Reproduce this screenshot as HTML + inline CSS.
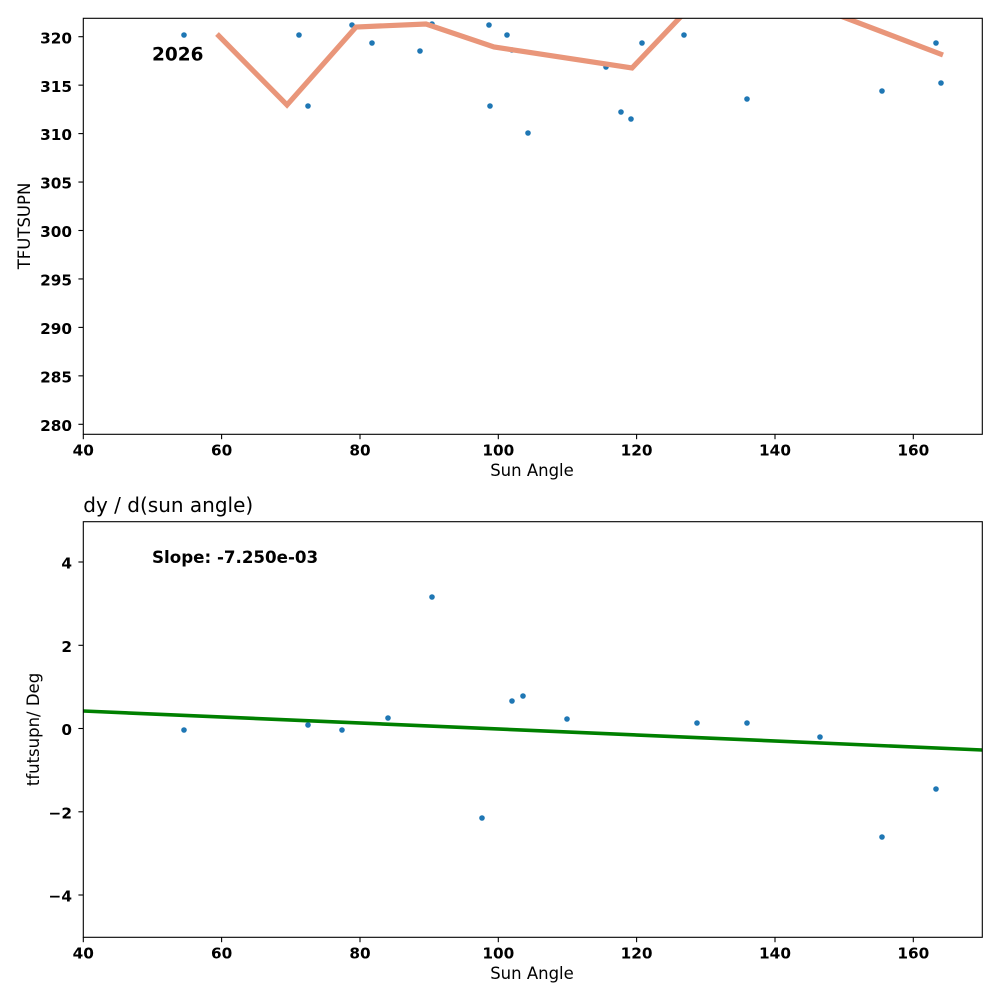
<!DOCTYPE html>
<html><head><meta charset="utf-8"><style>
html,body{margin:0;padding:0;background:#fff;}
svg{display:block;}
text{font-family:"DejaVu Sans","Liberation Sans",sans-serif;}
.tk{font-size:15.3px;font-weight:bold;fill:#000;}
.lb{font-size:16.5px;fill:#000;}
</style></head><body>
<svg width="1000" height="1000" viewBox="0 0 1000 1000" xmlns="http://www.w3.org/2000/svg">
<defs>
<clipPath id="c1"><rect x="83.3" y="18.3" width="899" height="416"/></clipPath>
<clipPath id="c2"><rect x="83.3" y="521.7" width="899" height="415.6"/></clipPath>
</defs>
<rect width="1000" height="1000" fill="#fff"/>

<!-- TOP PLOT -->
<g clip-path="url(#c1)" fill="#1f77b4">
<circle cx="184" cy="35" r="2.8"/>
<circle cx="299" cy="35" r="2.8"/>
<circle cx="308" cy="106" r="2.8"/>
<circle cx="352" cy="25" r="2.8"/>
<circle cx="372" cy="43" r="2.8"/>
<circle cx="420" cy="51" r="2.8"/>
<circle cx="432" cy="24" r="2.8"/>
<circle cx="489" cy="25" r="2.8"/>
<circle cx="490" cy="106" r="2.8"/>
<circle cx="507" cy="35" r="2.8"/>
<circle cx="512" cy="50" r="2.8"/>
<circle cx="528" cy="133" r="2.8"/>
<circle cx="606" cy="67" r="2.8"/>
<circle cx="621" cy="112" r="2.8"/>
<circle cx="631" cy="119" r="2.8"/>
<circle cx="642" cy="43" r="2.8"/>
<circle cx="684" cy="35" r="2.8"/>
<circle cx="747" cy="99" r="2.8"/>
<circle cx="882" cy="91" r="2.8"/>
<circle cx="936" cy="43" r="2.8"/>
<circle cx="941" cy="83" r="2.8"/>
</g>
<g clip-path="url(#c1)">
<polyline points="217,34 287,105 356,27 426,24 494,47 632,68 690,7 830,12 943,55" fill="none" stroke="#e9967a" stroke-width="5.2" stroke-linejoin="miter"/>
</g>
<text x="152" y="60.5" style="font-size:18.5px;font-weight:bold">2026</text>
<rect x="83.3" y="18.3" width="899" height="416" fill="none" stroke="#000" stroke-width="1.1"/>
<!-- top x ticks -->
<g stroke="#000" stroke-width="1.1">
<line x1="83.3" y1="434.3" x2="83.3" y2="439.2"/>
<line x1="221.6" y1="434.3" x2="221.6" y2="439.2"/>
<line x1="360" y1="434.3" x2="360" y2="439.2"/>
<line x1="498.3" y1="434.3" x2="498.3" y2="439.2"/>
<line x1="636.6" y1="434.3" x2="636.6" y2="439.2"/>
<line x1="775" y1="434.3" x2="775" y2="439.2"/>
<line x1="913.3" y1="434.3" x2="913.3" y2="439.2"/>
</g>
<g class="tk" text-anchor="middle">
<text x="83.3" y="455.7">40</text>
<text x="221.6" y="455.7">60</text>
<text x="360" y="455.7">80</text>
<text x="498.3" y="455.7">100</text>
<text x="636.6" y="455.7">120</text>
<text x="775" y="455.7">140</text>
<text x="913.3" y="455.7">160</text>
</g>
<text class="lb" x="532" y="476" text-anchor="middle">Sun Angle</text>
<!-- top y ticks -->
<g stroke="#000" stroke-width="1.1">
<line x1="78.4" y1="36.7" x2="83.3" y2="36.7"/>
<line x1="78.4" y1="85.15" x2="83.3" y2="85.15"/>
<line x1="78.4" y1="133.6" x2="83.3" y2="133.6"/>
<line x1="78.4" y1="182.05" x2="83.3" y2="182.05"/>
<line x1="78.4" y1="230.5" x2="83.3" y2="230.5"/>
<line x1="78.4" y1="278.95" x2="83.3" y2="278.95"/>
<line x1="78.4" y1="327.4" x2="83.3" y2="327.4"/>
<line x1="78.4" y1="375.85" x2="83.3" y2="375.85"/>
<line x1="78.4" y1="424.3" x2="83.3" y2="424.3"/>
</g>
<g class="tk" text-anchor="end">
<text x="72" y="43.3">320</text>
<text x="72" y="91.75">315</text>
<text x="72" y="140.2">310</text>
<text x="72" y="188.65">305</text>
<text x="72" y="237.1">300</text>
<text x="72" y="285.55">295</text>
<text x="72" y="334">290</text>
<text x="72" y="382.45">285</text>
<text x="72" y="430.9">280</text>
</g>
<text class="lb" transform="translate(30,226) rotate(-90)" text-anchor="middle">TFUTSUPN</text>

<!-- BOTTOM PLOT -->
<text x="83.3" y="512" style="font-size:20px;fill:#000">dy / d(sun angle)</text>
<g clip-path="url(#c2)">
<line x1="83.3" y1="711" x2="982.3" y2="750" stroke="#008000" stroke-width="3.6"/>
</g>
<g clip-path="url(#c2)" fill="#1f77b4">
<circle cx="184" cy="730" r="2.8"/>
<circle cx="308" cy="725" r="2.8"/>
<circle cx="342" cy="730" r="2.8"/>
<circle cx="388" cy="718" r="2.8"/>
<circle cx="432" cy="597" r="2.8"/>
<circle cx="482" cy="818" r="2.8"/>
<circle cx="512" cy="701" r="2.8"/>
<circle cx="523" cy="696" r="2.8"/>
<circle cx="567" cy="719" r="2.8"/>
<circle cx="697" cy="723" r="2.8"/>
<circle cx="747" cy="723" r="2.8"/>
<circle cx="820" cy="737" r="2.8"/>
<circle cx="882" cy="837" r="2.8"/>
<circle cx="936" cy="789" r="2.8"/>
</g>
<text x="152" y="563" style="font-size:16.7px;font-weight:bold">Slope: -7.250e-03</text>
<rect x="83.3" y="521.7" width="899" height="415.6" fill="none" stroke="#000" stroke-width="1.1"/>
<g stroke="#000" stroke-width="1.1">
<line x1="83.3" y1="937.3" x2="83.3" y2="942.2"/>
<line x1="221.6" y1="937.3" x2="221.6" y2="942.2"/>
<line x1="360" y1="937.3" x2="360" y2="942.2"/>
<line x1="498.3" y1="937.3" x2="498.3" y2="942.2"/>
<line x1="636.6" y1="937.3" x2="636.6" y2="942.2"/>
<line x1="775" y1="937.3" x2="775" y2="942.2"/>
<line x1="913.3" y1="937.3" x2="913.3" y2="942.2"/>
</g>
<g class="tk" text-anchor="middle">
<text x="83.3" y="958.7">40</text>
<text x="221.6" y="958.7">60</text>
<text x="360" y="958.7">80</text>
<text x="498.3" y="958.7">100</text>
<text x="636.6" y="958.7">120</text>
<text x="775" y="958.7">140</text>
<text x="913.3" y="958.7">160</text>
</g>
<text class="lb" x="532" y="979" text-anchor="middle">Sun Angle</text>
<g stroke="#000" stroke-width="1.1">
<line x1="78.4" y1="562" x2="83.3" y2="562"/>
<line x1="78.4" y1="645.3" x2="83.3" y2="645.3"/>
<line x1="78.4" y1="728.5" x2="83.3" y2="728.5"/>
<line x1="78.4" y1="811.8" x2="83.3" y2="811.8"/>
<line x1="78.4" y1="895" x2="83.3" y2="895"/>
</g>
<g class="tk" text-anchor="end">
<text x="72" y="568.6">4</text>
<text x="72" y="651.9">2</text>
<text x="72" y="735.1">0</text>
<text x="72" y="818.4">−2</text>
<text x="72" y="901.6">−4</text>
</g>
<text class="lb" transform="translate(39,729.5) rotate(-90)" text-anchor="middle">tfutsupn/ Deg</text>
</svg>
</body></html>
